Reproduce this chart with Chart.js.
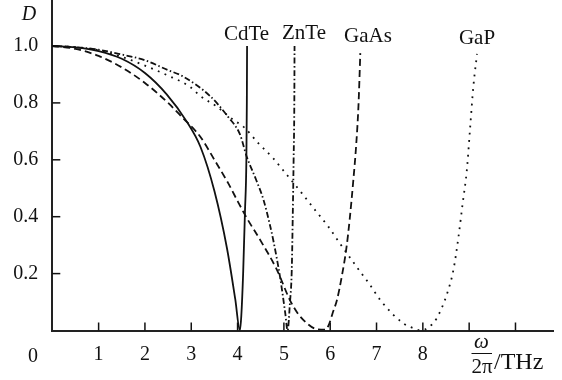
<!DOCTYPE html>
<html><head><meta charset="utf-8">
<script src="https://cdn.jsdelivr.net/npm/chart.js@4"></script>
<style>html,body{margin:0;padding:0;background:#fff}</style>
</head><body>
<canvas id="c" width="562" height="380"></canvas>
<script>
// ---- data ----
const xTicks = [0, 1, 2, 3, 4, 5, 6, 7, 8, 9, 10];
const xTickLabels = ['', '1', '2', '3', '4', '5', '6', '7', '8', '', ''];
const yTicks = [0.2, 0.4, 0.6, 0.8, 1.0];
const seriesNames = ['CdTe', 'ZnTe', 'GaAs', 'GaP'];

const cdteFreq = [0, 0.5, 1.0, 1.5, 2.0, 2.47, 2.9, 3.2, 3.5, 3.77, 3.95, 4.05, 4.08, 4.12, 4.16, 4.19, 4.2, 4.205];
const cdteD    = [1.0, 0.995, 0.982, 0.955, 0.905, 0.83, 0.735, 0.645, 0.49, 0.29, 0.11, 0.0, 0.05, 0.2, 0.42, 0.6, 0.8, 1.0];

const znteFreq = [0, 0.5, 1.0, 1.5, 2.0, 2.5, 2.8, 3.4, 3.8, 4.05, 4.2, 4.4, 4.56, 4.7, 4.77, 4.92, 5.03, 5.08, 5.13, 5.17, 5.19, 5.21, 5.225, 5.23];
const znteD    = [1.0, 0.996, 0.987, 0.97, 0.95, 0.915, 0.895, 0.825, 0.75, 0.69, 0.61, 0.53, 0.459, 0.37, 0.318, 0.185, 0.06, 0.0, 0.096, 0.213, 0.388, 0.6, 0.8, 1.0];

const gaasFreq = [0, 0.5, 1.0, 1.5, 2.0, 2.5, 2.8, 3.2, 3.5, 3.8, 4.0, 4.2, 4.5, 4.85, 5.13, 5.3, 5.5, 5.7, 5.9, 5.97, 6.05, 6.15, 6.25, 6.35, 6.42, 6.5, 6.56, 6.61, 6.65];
const gaasD    = [1.0, 0.99, 0.965, 0.925, 0.87, 0.8, 0.75, 0.68, 0.6, 0.517, 0.455, 0.395, 0.315, 0.213, 0.107, 0.06, 0.025, 0.005, 0.003, 0.02, 0.06, 0.11, 0.19, 0.29, 0.39, 0.53, 0.65, 0.79, 0.975];

const gapFreq = [0, 0.5, 1.0, 1.5, 1.97, 2.47, 2.97, 3.19, 3.55, 3.91, 4.13, 4.45, 4.77, 4.95, 5.39, 5.67, 5.96, 6.21, 6.57, 6.86, 7.11, 7.58, 7.8, 7.95, 8.14, 8.3, 8.52, 8.66, 8.77, 8.86, 8.95, 9.02, 9.09, 9.17];
const gapD    = [1.0, 0.996, 0.985, 0.962, 0.933, 0.898, 0.857, 0.825, 0.787, 0.74, 0.716, 0.658, 0.605, 0.57, 0.482, 0.424, 0.365, 0.306, 0.224, 0.16, 0.101, 0.025, 0.008, 0.0, 0.013, 0.043, 0.128, 0.213, 0.33, 0.447, 0.564, 0.711, 0.857, 0.972];

const toPts = (xs, ys) => xs.map((x, i) => ({x: x, y: ys[i]}));
const INK = '#111';
const SERIF = '"Liberation Serif", "Times New Roman", serif';

const decor = {
  id: 'decor',
  afterDraw(chart) {
    const ctx = chart.ctx, xs = chart.scales.x, ys = chart.scales.y;
    const x0 = xs.left, yb = ys.bottom;
    ctx.save();
    ctx.strokeStyle = INK; ctx.lineWidth = 1.5;
    // inward tick marks
    xTicks.forEach(v => { if (v === 0) return; const px = xs.getPixelForValue(v);
      ctx.beginPath(); ctx.moveTo(px, yb); ctx.lineTo(px, yb - 8); ctx.stroke(); });
    yTicks.forEach(v => { const py = ys.getPixelForValue(v);
      ctx.beginPath(); ctx.moveTo(x0, py); ctx.lineTo(x0 + 8, py); ctx.stroke(); });
    ctx.fillStyle = INK;
    ctx.textBaseline = 'alphabetic';
    // axis names
    ctx.textAlign = 'center';
    ctx.font = 'italic 20px ' + SERIF;
    ctx.fillText('D', 29, 20);
    ctx.font = '20px ' + SERIF;
    ctx.fillText('0', 33, 362);
    // curve labels
    ctx.font = '21px ' + SERIF;
    ctx.fillText(seriesNames[0], 246.5, 40);
    ctx.fillText(seriesNames[1], 304, 39);
    ctx.fillText(seriesNames[2], 368, 42);
    ctx.fillText(seriesNames[3], 477, 44);
    // x-axis title  ω/2π /THz
    ctx.font = 'italic 21px ' + SERIF;
    ctx.fillText('\u03c9', 481.5, 348);
    ctx.lineWidth = 1;
    ctx.beginPath(); ctx.moveTo(471.5, 353.5); ctx.lineTo(492, 353.5); ctx.stroke();
    ctx.font = '21px ' + SERIF;
    ctx.fillText('2\u03c0', 482, 373);
    ctx.textAlign = 'left';
    ctx.font = '24px ' + SERIF;
    ctx.fillText('/THz', 494, 369);
    ctx.restore();
  }
};

const mk = (label, xs, ys, dash, w) => ({
  label, data: toPts(xs, ys), borderColor: INK, borderWidth: w, borderDash: dash,
  pointRadius: 0, fill: false, cubicInterpolationMode: 'monotone'
});

new Chart(document.getElementById('c'), {
  type: 'line',
  data: { datasets: [
    mk(seriesNames[0], cdteFreq, cdteD, [], 1.8),
    mk(seriesNames[1], znteFreq, znteD, [6, 2.5, 1.5, 2.5], 1.8),
    mk(seriesNames[2], gaasFreq, gaasD, [7, 4], 1.8),
    mk(seriesNames[3], gapFreq, gapD, [1.8, 5.5], 1.8)
  ]},
  options: {
    responsive: false, animation: false, devicePixelRatio: 1,
    layout: { padding: { top: 0, right: 9, left: 0, bottom: 0 } },
    plugins: { legend: { display: false }, tooltip: { enabled: false } },
    scales: {
      x: {
        type: 'linear', min: 0, max: 10.81,
        afterBuildTicks: s => { s.ticks = xTicks.map(v => ({value: v})); },
        afterFit: s => { s.height = 49.5; s.paddingLeft = 0; s.paddingRight = 0; },
        ticks: { autoSkip: false, maxRotation: 0, padding: 12, color: INK,
          font: { family: SERIF, size: 20 },
          callback: (v) => { const i = xTicks.indexOf(v); return i >= 0 ? xTickLabels[i] : ''; } },
        grid: { display: true, drawOnChartArea: false, drawTicks: false },
        border: { display: true, color: '#222', width: 2 }
      },
      y: {
        type: 'linear', min: 0, max: 1.1617,
        afterBuildTicks: s => { s.ticks = yTicks.map(v => ({value: v})); },
        afterFit: s => { s.width = 52.3; s.paddingTop = 0; s.paddingBottom = 0; },
        ticks: { padding: 14, color: INK, font: { family: SERIF, size: 20 },
          callback: v => v.toFixed(1) },
        grid: { display: true, drawOnChartArea: false, drawTicks: false },
        border: { display: true, color: '#222', width: 2 }
      }
    }
  },
  plugins: [decor]
});
</script>
</body></html>
